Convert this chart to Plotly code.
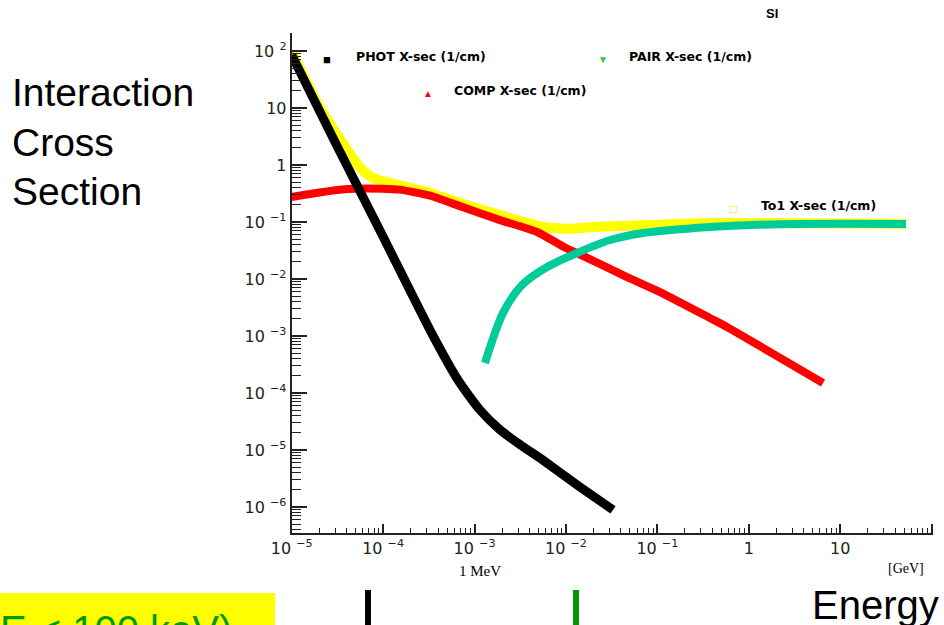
import plotly.graph_objects as go

# ---- data (energy in GeV, cross section in 1/cm) ----
phot_E = [1.0e-5, 3.16e-5, 1.0e-4, 3.26e-4, 6.59e-4, 1.15e-3, 1.91e-3, 3.2e-3, 5.62e-3, 1.43e-2, 3.27e-2]
phot_S = [85.0, 2.1, 0.055, 1.27e-3, 1.69e-4, 5.0e-5, 2.24e-5, 1.22e-5, 6.6e-6, 2.24e-6, 8.9e-7]

comp_E = [1.0e-5, 2.0e-5, 4.04e-5, 1.0e-4, 1.53e-4, 3.26e-4, 6.93e-4, 1.9e-3, 4.83e-3, 1.0e-2, 1.32e-2, 4.66e-2, 0.107, 0.376, 0.577, 6.49]
comp_S = [0.275, 0.33, 0.38, 0.385, 0.37, 0.29, 0.19, 0.108, 0.0668, 0.035, 0.0286, 0.0108, 5.9e-3, 2.07e-3, 1.44e-3, 1.5e-4]

pair_E = [1.30e-3, 2.05e-3, 3.31e-3, 6.21e-3, 1.32e-2, 3.04e-2, 6.98e-2, 0.376, 1.03, 3.63, 52.5]
pair_S = [3.36e-4, 2.54e-3, 7.85e-3, 0.01626, 0.0286, 0.0483, 0.0641, 0.0817, 0.0885, 0.0923, 0.0923]

tot_E = [1.0e-5, 2.04e-5, 5.58e-5, 7.76e-5, 3.26e-4, 6.93e-4, 5.62e-3, 1.11e-2, 2.0e-2, 8.3e-2, 0.376, 52.5]
tot_S = [95.0, 10.0, 0.9, 0.59, 0.323, 0.215, 0.0817, 0.0759, 0.0817, 0.0885, 0.096, 0.0923]

x_tickvals = [1e-5, 1e-4, 1e-3, 1e-2, 1e-1, 1, 10, 100]
x_ticktext = ["10 <sup>−5</sup>", "10 <sup>−4</sup>", "10 <sup>−3</sup>", "10 <sup>−2</sup>",
              "10 <sup>−1</sup>", "1", "10", ""]
y_tickvals = [1e-6, 1e-5, 1e-4, 1e-3, 1e-2, 1e-1, 1, 10, 100]
y_ticktext = ["10 <sup>−6</sup>", "10 <sup>−5</sup>", "10 <sup>−4</sup>", "10 <sup>−3</sup>",
              "10 <sup>−2</sup>", "10 <sup>−1</sup>", "1", "10", "10 <sup>2</sup>"]

W, H = 944, 625
TICKFONT = dict(size=16, color="#222", family="DejaVu Sans")
LEGFONT = "DejaVu Sans"

fig = go.Figure()
fig.add_trace(go.Scatter(x=tot_E, y=tot_S, mode="lines", line=dict(color="#ffff00", width=10, shape="spline", smoothing=0.5)))
fig.add_trace(go.Scatter(x=comp_E, y=comp_S, mode="lines", line=dict(color="#ff0000", width=8, shape="spline", smoothing=0.5)))
fig.add_trace(go.Scatter(x=pair_E, y=pair_S, mode="lines", line=dict(color="#00cc99", width=8, shape="spline", smoothing=0.8)))
fig.add_trace(go.Scatter(x=phot_E, y=phot_S, mode="lines", line=dict(color="#000000", width=9, shape="spline", smoothing=0.6)))

def px(x):
    return x / W

def py(y):
    return 1 - y / H

annots = []
def txt(text, x, y, size, xanchor="left", color="black", family="Liberation Sans, Arial, sans-serif", yanchor="middle"):
    annots.append(dict(text=text, x=px(x), y=py(y), xref="paper", yref="paper",
                       xanchor=xanchor, yanchor=yanchor, showarrow=False,
                       font=dict(size=size, color=color, family=family)))

txt("Interaction", 10, 92, 39)
txt("Cross", 10, 142, 39)
txt("Section", 10, 192, 39)
txt("<b>SI</b>", 772, 14, 13, xanchor="center")
txt("<b>PHOT X-sec (1/cm)</b>", 354, 57, 12.5, family=LEGFONT)
txt("<b>COMP X-sec (1/cm)</b>", 452, 90, 12.5, family=LEGFONT)
txt("<b>PAIR X-sec (1/cm)</b>", 627, 57, 12.5, family=LEGFONT)
txt("<b>To1 X-sec (1/cm)</b>", 759, 205, 12.5, family=LEGFONT)
txt("■", 327, 60, 13, xanchor="center")
txt("▲", 428, 93, 10, xanchor="center", color="#ff0000")
txt("▼", 603, 59, 10, xanchor="center", color="#33cc33")
txt("□", 733, 209, 12, xanchor="center", color="#e6e600")
txt("1 MeV", 480, 571, 15, xanchor="center", family="Liberation Serif, Times New Roman, serif")
txt("[GeV]", 906, 568, 14, xanchor="center", family="Liberation Serif, Times New Roman, serif")
txt("Energy", 810, 605, 40)
txt("E < 100 keV)", 234, 630, 40, xanchor="right", color="#009900")

shapes = [
    dict(type="rect", xref="paper", yref="paper", x0=0, x1=px(275), y0=py(625), y1=py(593),
         fillcolor="#ffff00", line=dict(width=0), layer="below"),
    dict(type="rect", xref="paper", yref="paper", x0=px(365), x1=px(371), y0=py(625), y1=py(590),
         fillcolor="#000000", line=dict(width=0)),
    dict(type="rect", xref="paper", yref="paper", x0=px(573), x1=px(579), y0=py(625), y1=py(590),
         fillcolor="#009900", line=dict(width=0)),
]

fig.update_layout(
    width=W, height=H, autosize=False,
    margin=dict(l=0, r=0, t=0, b=0, pad=0, autoexpand=False),
    paper_bgcolor="white", plot_bgcolor="white",
    showlegend=False,
    annotations=annots, shapes=shapes,
    xaxis=dict(type="log", range=[-5, 2.015], domain=[291.7 / W, 933 / W], automargin=False,
               showgrid=False, zeroline=False, showline=True, linecolor="#222", linewidth=2,
               ticks="inside", ticklen=9, tickwidth=1.5, tickcolor="#222",
               tickmode="array", tickvals=x_tickvals, ticktext=x_ticktext, tickfont=TICKFONT,
               minor=dict(ticks="inside", ticklen=5, tickwidth=1.2, tickcolor="#222", dtick="D1", showgrid=False)),
    yaxis=dict(type="log", range=[-6.456, 2.316], domain=[1 - 533 / H, 1 - 33 / H], automargin=False,
               showgrid=False, zeroline=False, showline=True, linecolor="#222", linewidth=2,
               ticks="inside", ticklen=15, tickwidth=1.5, tickcolor="#222",
               tickmode="array", tickvals=y_tickvals, ticktext=y_ticktext, tickfont=TICKFONT,
               minor=dict(ticks="inside", ticklen=9, tickwidth=1.2, tickcolor="#222", dtick="D1", showgrid=False)),
)

fig.write_html("out.html")
